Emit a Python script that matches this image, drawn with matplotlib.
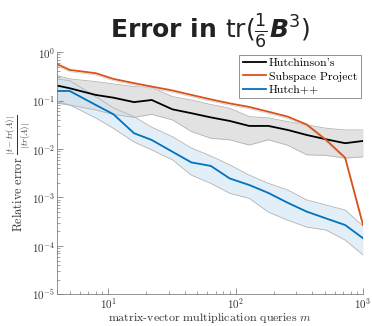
import numpy as np
import matplotlib
matplotlib.use('Agg')
from matplotlib import pyplot as plt

# matvec queries
m = [4, 5, 8, 11, 16, 22, 32, 45, 64, 90, 128, 181, 256, 362, 512, 724, 1000]

# Hutchinson's: median, upper / lower band
hutch = [0.204, 0.180, 0.131, 0.115, 0.093, 0.103, 0.066, 0.055, 0.045, 0.038,
         0.030, 0.030, 0.0248, 0.0195, 0.0159, 0.0132, 0.0147]
hutch_hi = [0.329, 0.281, 0.247, 0.221, 0.195, 0.189, 0.121, 0.103, 0.083, 0.0696,
            0.0467, 0.044, 0.0368, 0.0315, 0.0269, 0.0248, 0.0248]
hutch_lo = [0.088, 0.081, 0.064, 0.052, 0.045, 0.052, 0.040, 0.023, 0.0167, 0.0155,
            0.0121, 0.0155, 0.012, 0.0076, 0.0074, 0.0065, 0.0069]

# Subspace project
subsp = [0.565, 0.43, 0.368, 0.281, 0.229, 0.195, 0.162, 0.131, 0.106, 0.0876,
         0.074, 0.059, 0.0467, 0.032, 0.0155, 0.0066, 0.00027]

# Hutch++
hpp = [0.158, 0.158, 0.0815, 0.0524, 0.0212, 0.0154, 0.0088, 0.0053, 0.00448, 0.00247,
       0.00181, 0.00124, 0.00078, 0.00051, 0.00037, 0.00027, 0.000144]
hpp_hi = [0.277, 0.259, 0.121, 0.0706, 0.0467, 0.0282, 0.018, 0.0105, 0.0072, 0.0047,
          0.0029, 0.00196, 0.00143, 0.00089, 0.0007, 0.00055, 0.000258]
hpp_lo = [0.095, 0.0815, 0.044, 0.0269, 0.014, 0.0096, 0.006, 0.0029, 0.00196, 0.00122,
          0.00096, 0.0005, 0.00034, 0.000245, 0.000213, 0.000132, 0.000065]

plt.rcParams['font.family'] = ['cmr10', 'DejaVu Serif']
plt.rcParams['mathtext.fontset'] = 'cm'
plt.rcParams['axes.formatter.use_mathtext'] = True

fig = plt.figure(figsize=(3.72, 3.26), dpi=100)
ax = fig.add_axes([0.154, 0.097, 0.822, 0.743])

edge = '#b4b4b4'
ax.fill_between(m, hutch_lo, hutch_hi, color='#d9d9d9', alpha=0.75, lw=0)
ax.plot(m, hutch_lo, color=edge, lw=0.6)
ax.plot(m, hutch_hi, color=edge, lw=0.6)
ax.fill_between(m, hpp_lo, hpp_hi, color='#cfe5f5', alpha=0.6, lw=0)
ax.plot(m, hpp_lo, color=edge, lw=0.6)
ax.plot(m, hpp_hi, color=edge, lw=0.6)
sub_lo = [v * 0.92 for v in subsp]
ax.plot(m, sub_lo, color='#d0d0d0', lw=0.6)

ax.plot(m, hutch, color='black', lw=1.3, label="Hutchinson's")
ax.plot(m, subsp, color='#D95319', lw=1.3, label='Subspace Project')
ax.plot(m, hpp, color='#0072BD', lw=1.3, label='Hutch++')

ax.set_xscale('log')
ax.set_yscale('log')
ax.set_xlim(4, 1000)
ax.set_ylim(1e-5, 1)
for s in ['top', 'right']:
    ax.spines[s].set_visible(False)
for s in ['left', 'bottom']:
    ax.spines[s].set_color('#808080')
    ax.spines[s].set_linewidth(0.6)
ax.tick_params(which='both', direction='in', color='#808080', labelcolor='#333333',
               labelsize=8, pad=1.5)
ax.tick_params(which='major', length=4, width=0.6)
ax.tick_params(which='minor', length=2, width=0.5)

ax.set_xlabel('matrix-vector multiplication queries $m$', fontsize=8.6,
              color='#333333')
ax.xaxis.set_label_coords(0.5, -0.068)
ax.set_ylabel(r'Relative error $\frac{|t-tr(A)|}{|tr(A)|}$', fontsize=8.8,
              color='#333333')
ax.yaxis.set_label_coords(-0.082, 0.5)

leg = ax.legend(loc='upper right', fontsize=8.5, handlelength=2.0, handletextpad=0.2,
                borderpad=0.3, labelspacing=0.25, fancybox=False, framealpha=1,
                borderaxespad=0.2)
leg.get_frame().set_edgecolor('#808080')
leg.get_frame().set_linewidth(0.6)

fig.text(0.565, 0.905, r'Error in $\mathsf{tr}(\frac{1}{6}\mathbfit{B}^3)$',
         ha='center', va='center', fontsize=18, fontweight='bold',
         family='DejaVu Sans', math_fontfamily='dejavusans', color='#222222')

fig.savefig('out.png', dpi=100)
